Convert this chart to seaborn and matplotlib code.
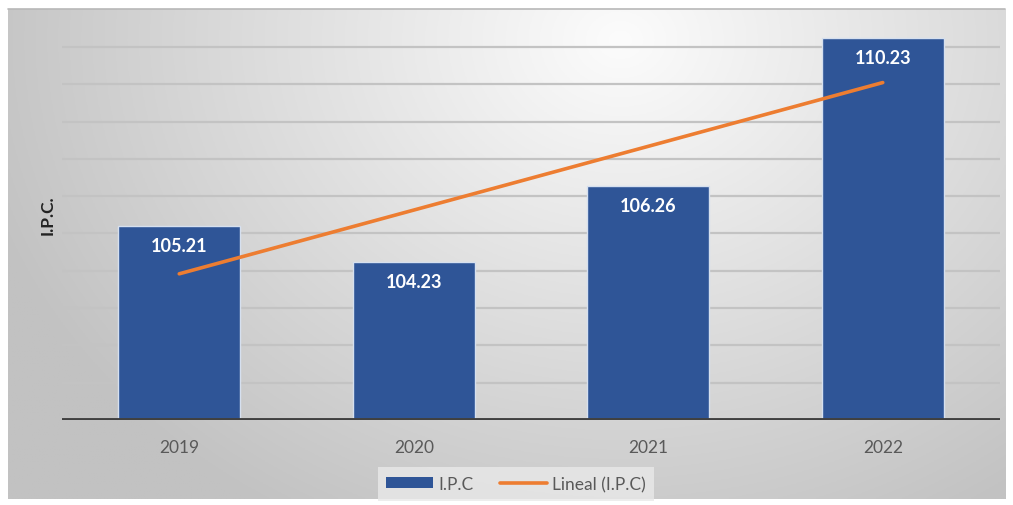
import numpy as np
import pandas as pd
import matplotlib
matplotlib.use("Agg")
import matplotlib.pyplot as plt
import seaborn as sns
from matplotlib.patches import Patch, Rectangle
from matplotlib.lines import Line2D

# ---- data ----
years = ["2019", "2020", "2021", "2022"]
ipc = [105.21, 104.23, 106.26, 110.23]
bar_label = "I.P.C"
trend_label = "Lineal (I.P.C)"
y_title = "I.P.C."

sns.set_theme(style="white")
plt.rcParams["font.family"] = ["Lato", "DejaVu Sans"]

W, H = 1013, 506
fig = plt.figure(figsize=(W / 100, H / 100), dpi=100)
fig.patch.set_facecolor("white")

# background gradient (chart area)
bx0, bx1, by0, by1 = 8, 1005, 10, 500
bg = fig.add_axes([bx0 / W, 1 - by1 / H, (bx1 - bx0) / W, (by1 - by0) / H], zorder=-5)
xs = np.linspace(bx0, bx1, 400)
ys = np.linspace(by0, by1, 200)
X, Y = np.meshgrid(xs, ys)
d = np.sqrt(((X - 620) / 1.0) ** 2 + ((Y - 40) * 1.2) ** 2)
val = np.clip(252 - 54 * (d / 620), 194, 252) / 255.0
img = np.dstack([val, val, val])
bg.imshow(img, aspect="auto", extent=[0, 1, 0, 1], origin="upper")
bg.set_axis_off()
# top border line
fig.add_artist(Line2D([bx0 / W, bx1 / W], [1 - by0 / H, 1 - by0 / H], color="#b8b8b8", lw=1.2,
                      transform=fig.transFigure))

ax = fig.add_axes([62 / W, 1 - 421 / H, (1000 - 62) / W, (421 - 25.6) / H])
ax.patch.set_alpha(0)

df = pd.DataFrame({"year": years, "ipc": ipc})
sns.barplot(data=df, x="year", y="ipc", color="#2F5597", width=0.52, ax=ax,
            edgecolor="#d6e0ef", linewidth=1, zorder=3, saturation=1)

# linear trend
xi = np.arange(len(ipc))
m, b = np.polyfit(xi, ipc, 1)
trend = m * xi + b
sns.lineplot(x=xi, y=trend, color="#ED7D31", lw=2.6, ax=ax, zorder=4)

ax.set_ylim(100, 110.6)
ax.set_xlim(-0.5, len(years) - 0.5)

# gridlines
for v in range(101, 111):
    ax.axhline(v, color="#c3c3c3", lw=1.6, zorder=1)
ax.axhline(100, color="#404040", lw=2.8, zorder=5)

for i, v in enumerate(ipc):
    ax.text(i, v - 0.52, f"{v:.2f}", ha="center", va="center", color="white",
            fontsize=13, fontweight="bold", zorder=6)

for s in ax.spines.values():
    s.set_visible(False)
ax.set_yticks([])
ax.set_xlabel("")
ax.set_ylabel(y_title, fontsize=12.5, fontweight="bold", color="#222222")
ax.yaxis.set_label_coords(-0.007, 0.52)
ax.tick_params(axis="x", length=0, pad=14, labelsize=12.5, labelcolor="#595959")

handles = [Patch(facecolor="#2F5597", edgecolor="none"),
           Line2D([0], [0], color="#ED7D31", lw=2.6)]
leg = fig.legend(handles, [bar_label, trend_label], loc="center", bbox_to_anchor=(516 / W, 1 - 485 / H),
                 ncol=2, frameon=True, fontsize=12.5, handlelength=2.7, handleheight=0.6,
                 columnspacing=1.5, handletextpad=0.3, borderpad=0.5)
leg.get_frame().set_facecolor("#e9e9e9")
leg.get_frame().set_edgecolor("none")
leg.get_frame().set_boxstyle("square", pad=0)
for t in leg.get_texts():
    t.set_color("#595959")

fig.savefig("out.png", dpi=100)
